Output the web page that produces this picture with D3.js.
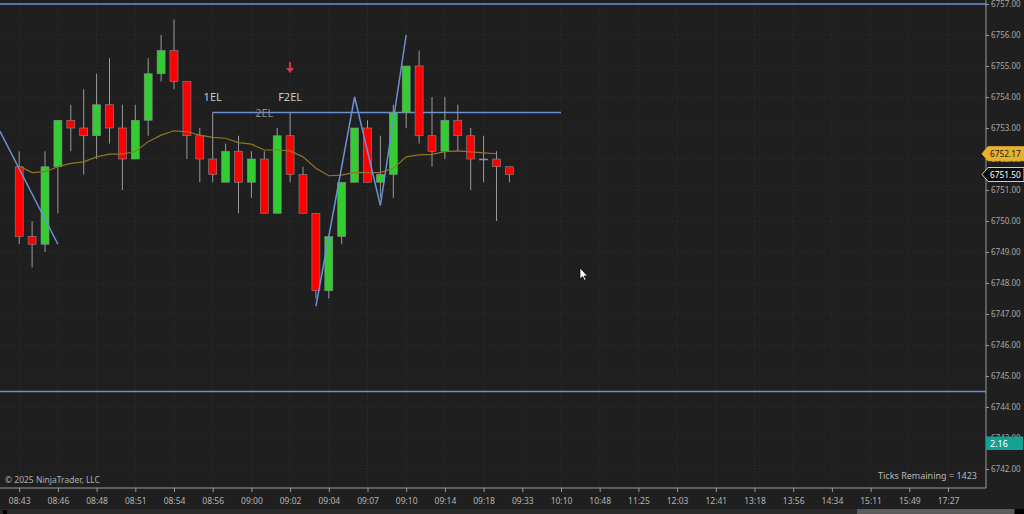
<!DOCTYPE html>
<html>
<head>
<meta charset="utf-8">
<script src="https://cdn.jsdelivr.net/npm/d3@7"></script>
<style>
  html, body { margin: 0; padding: 0; background: #1f1f1f; overflow: hidden; }
  svg { display: block; }
  text { font-family: "Noto Sans", "Open Sans", sans-serif; }
</style>
</head>
<body>
<svg id="chart" width="1024" height="514"></svg>
<script>
// ---------- DATA ----------
const timeLabels = ["08:43","08:46","08:48","08:51","08:54","08:56","09:00","09:02","09:04","09:07","09:10","09:14","09:18","09:33","10:10","10:48","11:25","12:03","12:41","13:18","13:56","14:34","15:11","15:49","17:27"];
const opens  = [6751.75,6749.5,6749.25,6751.75,6753.25,6753.0,6752.75,6753.75,6753.0,6752.0,6753.25,6754.75,6755.5,6754.5,6752.75,6752.0,6751.25,6752.25,6751.25,6752.0,6750.25,6752.75,6751.5,6750.25,6747.75,6749.5,6751.25,6753.0,6751.25,6751.5,6753.5,6755.0,6752.75,6752.25,6753.25,6752.75,6752.0,6752.0,6751.75];
const highs  = [6752.25,6750.0,6752.25,6753.25,6753.75,6754.25,6754.75,6755.25,6753.75,6753.75,6755.25,6756.0,6756.5,6754.5,6753.0,6753.5,6752.5,6752.75,6752.25,6752.25,6753.0,6753.5,6751.75,6750.25,6749.5,6751.25,6753.0,6753.25,6752.75,6753.75,6755.0,6755.5,6754.0,6754.0,6753.75,6753.0,6752.75,6752.25,6751.75];
const lows   = [6749.25,6748.5,6749.0,6750.25,6752.25,6751.5,6752.0,6752.5,6751.0,6752.0,6752.75,6754.5,6754.25,6752.0,6751.25,6751.25,6751.25,6750.25,6750.75,6750.25,6750.25,6751.25,6750.25,6747.5,6747.5,6749.25,6751.25,6751.25,6750.75,6750.75,6753.0,6752.5,6751.75,6752.0,6752.25,6751.0,6751.25,6750.0,6751.25];
const closes = [6749.5,6749.25,6751.75,6753.25,6753.0,6752.75,6753.75,6753.0,6752.0,6753.25,6754.75,6755.5,6754.5,6752.75,6752.0,6751.5,6752.25,6751.25,6752.0,6750.25,6752.75,6751.5,6750.25,6747.75,6749.5,6751.25,6753.0,6751.25,6751.5,6753.5,6755.0,6752.75,6752.25,6753.25,6752.75,6752.0,6752.0,6751.75,6751.5];
const maValues = [6751.77,6751.56,6751.59,6751.75,6751.86,6751.91,6752.07,6752.16,6752.16,6752.24,6752.56,6752.77,6752.91,6752.88,6752.77,6752.70,6752.67,6752.53,6752.48,6752.29,6752.29,6752.26,6752.07,6751.70,6751.46,6751.48,6751.57,6751.56,6751.56,6751.70,6752.07,6752.13,6752.15,6752.24,6752.26,6752.23,6752.20,6752.17];
const zigzag1Idx = [-1.5, 3];
const zigzag1Price = [6752.9, 6749.25];
const zigzag2Idx = [23, 26, 28, 30];
const zigzag2Price = [6747.25, 6754.0, 6750.5, 6756.0];
const priceTicks = [6742,6743,6744,6745,6746,6747,6748,6749,6750,6751,6752,6753,6754,6755,6756,6757];
const hLines = [6757.0, 6744.5];
const entryLevel = 6753.5, entryStartIdx = 15, entryEndIdx = 42;
const lastPrice = 6751.50, maLast = 6752.17, indicatorValue = "2.16";
const ticksRemaining = 1423;

// ---------- SETUP ----------
const W = 1024, H = 514;
const axisX = 986, axisY = 488;
const svg = d3.select("#chart");
svg.append("rect").attr("width", W).attr("height", H).attr("fill", "#1f1f1f");

const x = d3.scaleLinear().domain([0, 72]).range([19.2, 948]);
const y = d3.scaleLinear().domain([6742, 6757]).range([469, 4]);
const tickIdx = timeLabels.map((d, i) => i * 3);

// grid
const grid = svg.append("g");
grid.selectAll("line.v").data(tickIdx).join("line")
  .attr("x1", d => x(d)).attr("x2", d => x(d)).attr("y1", 0).attr("y2", axisY)
  .attr("stroke", "#2f2f2f").attr("stroke-width", 1).attr("stroke-dasharray", "1,2");
grid.selectAll("line.h").data(priceTicks).join("line")
  .attr("x1", 0).attr("x2", axisX).attr("y1", d => y(d)).attr("y2", d => y(d))
  .attr("stroke", "#2f2f2f").attr("stroke-width", 1).attr("stroke-dasharray", "1,2");

// full-width horizontal lines
svg.selectAll("line.hl").data(hLines).join("line")
  .attr("x1", 0).attr("x2", axisX).attr("y1", d => y(d)).attr("y2", d => y(d))
  .attr("stroke", "#6a90d6").attr("stroke-width", 1.5);

// entry level line
svg.append("line")
  .attr("x1", x(entryStartIdx)).attr("x2", x(entryEndIdx))
  .attr("y1", y(entryLevel)).attr("y2", y(entryLevel))
  .attr("stroke", "#6a90d6").attr("stroke-width", 1.5);

// candles
const bars = d3.range(opens.length).map(i => ({i, o: opens[i], h: highs[i], l: lows[i], c: closes[i]}));
const cg = svg.append("g");
cg.selectAll("line.wick").data(bars).join("line")
  .attr("x1", d => x(d.i)).attr("x2", d => x(d.i))
  .attr("y1", d => y(d.h)).attr("y2", d => y(d.l))
  .attr("stroke", "#9a9a9a").attr("stroke-width", 1);
const bw = 8;
cg.selectAll("rect.body").data(bars).join("rect")
  .attr("x", d => x(d.i) - bw / 2)
  .attr("y", d => y(Math.max(d.o, d.c)))
  .attr("width", bw)
  .attr("height", d => Math.max(1, Math.abs(y(d.o) - y(d.c))))
  .attr("fill", d => d.c > d.o ? "#32cd32" : (d.c < d.o ? "#ff0000" : "#9a9a9a"))
  .attr("stroke", "#8a8a8a").attr("stroke-width", 0.6);

// moving average
svg.append("path").datum(maValues)
  .attr("d", d3.line().x((d, i) => x(i)).y(d => y(d)))
  .attr("fill", "none").attr("stroke", "#8f7628").attr("stroke-width", 1.2);

// zigzag
const zz = d3.line().x(d => x(d[0])).y(d => y(d[1]));
svg.append("path").datum(zigzag1Idx.map((d, i) => [d, zigzag1Price[i]]))
  .attr("d", zz).attr("fill", "none").attr("stroke", "#6a90d6").attr("stroke-width", 1.5);
svg.append("path").datum(zigzag2Idx.map((d, i) => [d, zigzag2Price[i]]))
  .attr("d", zz).attr("fill", "none").attr("stroke", "#6a90d6").attr("stroke-width", 1.5);

// labels
svg.append("text").attr("x", x(15)).attr("y", 101).attr("text-anchor", "middle")
  .attr("font-size", 11).attr("fill", "#c8c8c8").text("1EL");
svg.append("text").attr("x", x(21)).attr("y", 101).attr("text-anchor", "middle")
  .attr("font-size", 11).attr("fill", "#c8c8c8").text("F2EL");
svg.append("text").attr("x", x(19)).attr("y", 116.5).attr("text-anchor", "middle")
  .attr("font-size", 11).attr("fill", "#8c8c8c").text("2EL");

// red down arrow
const ax = x(21), ay = 62;
svg.append("path")
  .attr("d", `M${ax-1},${ay} L${ax+1},${ay} L${ax+1},${ay+6} L${ax+4},${ay+6} L${ax},${ay+11} L${ax-4},${ay+6} L${ax-1},${ay+6} Z`)
  .attr("fill", "#d8344f");

// axes lines
svg.append("line").attr("x1", axisX).attr("x2", axisX).attr("y1", 0).attr("y2", axisY)
  .attr("stroke", "#9a9a9a").attr("stroke-width", 1);
svg.append("line").attr("x1", 0).attr("x2", axisX).attr("y1", axisY).attr("y2", axisY)
  .attr("stroke", "#9a9a9a").attr("stroke-width", 1);

// right axis
const yAxis = svg.append("g").attr("transform", `translate(${axisX},0)`)
  .call(d3.axisRight(y).tickValues(priceTicks).tickFormat(d3.format(".2f")).tickSize(3).tickPadding(2));
yAxis.select(".domain").remove();
yAxis.selectAll("line").attr("stroke", "#9a9a9a");
yAxis.selectAll("text").attr("fill", "#a8a8a8").attr("font-size", 8).attr("font-family", "Noto Sans, sans-serif");

// bottom axis
const xAxis = svg.append("g").attr("transform", `translate(0,${axisY})`)
  .call(d3.axisBottom(x).tickValues(tickIdx).tickFormat((d, i) => timeLabels[i]).tickSize(4).tickPadding(6));
xAxis.select(".domain").remove();
xAxis.selectAll("line").attr("stroke", "#9a9a9a");
xAxis.selectAll("text").attr("fill", "#b4b4b4").attr("font-size", 8.5).attr("font-family", "Noto Sans, sans-serif");

// price markers on axis
function marker(val, fill, stroke, color, label) {
  const cy = y(val);
  const g = svg.append("g");
  g.append("path")
    .attr("d", `M${axisX-4},${cy} L${axisX+2},${cy-7} L${W},${cy-7} L${W},${cy+7} L${axisX+2},${cy+7} Z`)
    .attr("fill", fill).attr("stroke", stroke).attr("stroke-width", 1);
  g.append("text").attr("x", axisX + 4).attr("y", cy + 3)
    .attr("font-size", 8.3).attr("fill", color).text(label);
}
marker(maLast, "#e8b030", "#e8b030", "#1a1a1a", d3.format(".2f")(maLast));
marker(lastPrice, "#0c0c0c", "#d0d0d0", "#ffffff", d3.format(".2f")(lastPrice));

// teal indicator box
svg.append("rect").attr("x", axisX).attr("y", 436.5).attr("width", 37).attr("height", 13.5)
  .attr("fill", "#17a096");
svg.append("text").attr("x", axisX + 4).attr("y", 446.5).attr("font-size", 9)
  .attr("fill", "#ffffff").text(indicatorValue);

// texts
svg.append("text").attr("x", 5).attr("y", 483).attr("font-size", 8.5)
  .attr("fill", "#b0b0b0").text("© 2025 NinjaTrader, LLC");
svg.append("text").attr("x", 977).attr("y", 478.5).attr("text-anchor", "end").attr("font-size", 9)
  .attr("fill", "#b8b8b8").text(`Ticks Remaining = ${ticksRemaining}`);

// scrollbar
svg.append("rect").attr("x", 0).attr("y", 509).attr("width", W).attr("height", 5).attr("fill", "#2a2a2a");
svg.append("rect").attr("x", 857).attr("y", 509).attr("width", 157).attr("height", 5).attr("fill", "#5c5c5c");
svg.append("rect").attr("x", 1015).attr("y", 509).attr("width", 9).attr("height", 5).attr("fill", "#000");
svg.append("rect").attr("x", 3).attr("y", 510).attr("width", 4).attr("height", 4).attr("fill", "#000");

// mouse cursor
const mx = 580, my = 268;
svg.append("path")
  .attr("d", `M${mx},${my} L${mx},${my+11} L${mx+2.6},${my+8.6} L${mx+4.4},${my+12.4} L${mx+6},${my+11.7} L${mx+4.2},${my+8} L${mx+7.6},${my+8} Z`)
  .attr("fill", "#ffffff").attr("stroke", "#000").attr("stroke-width", 0.7);
</script>
</body>
</html>
